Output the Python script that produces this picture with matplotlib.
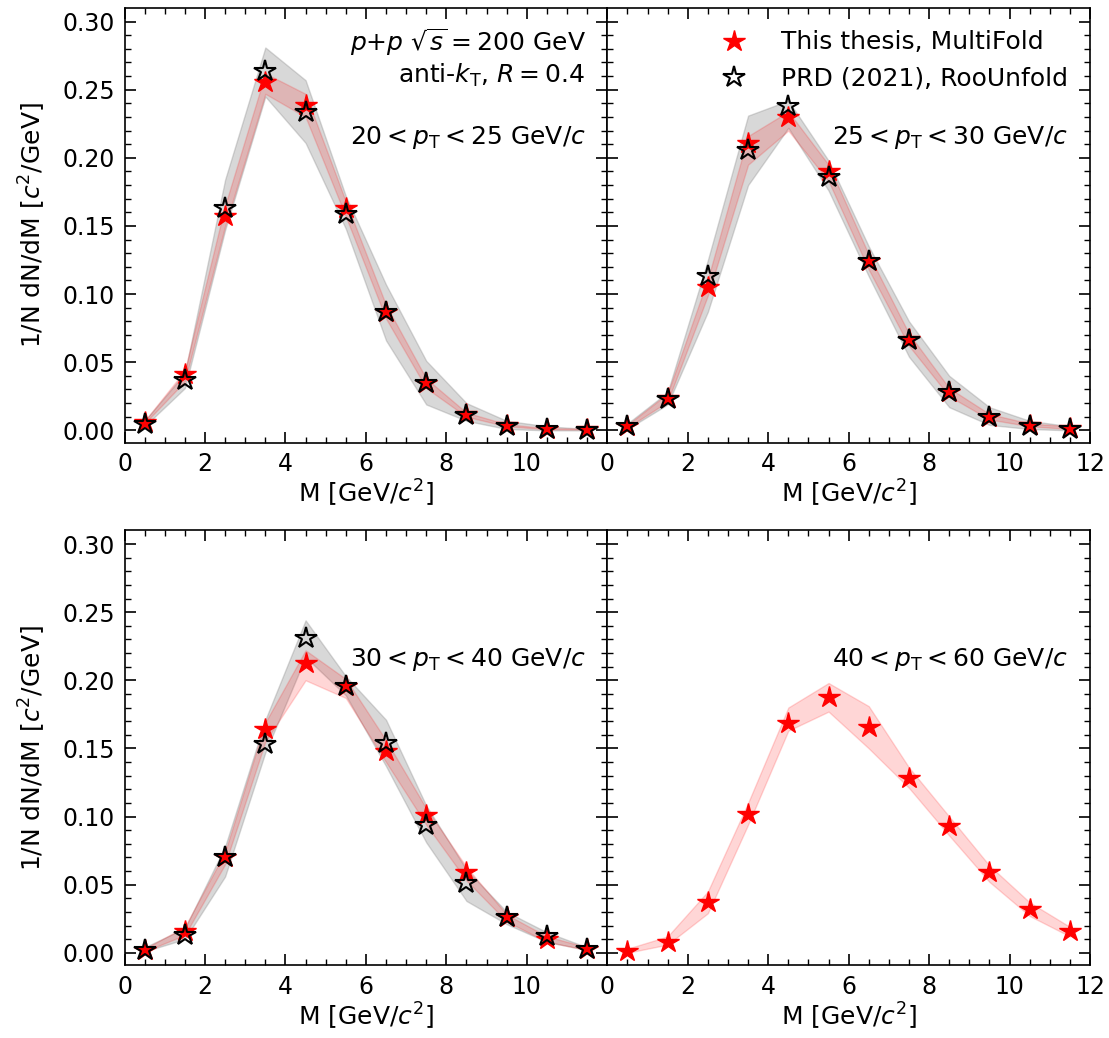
# =========================================================
# JET MASS SPECTRA — MULTIFOLD vs ROOUNFOLD
# p+p at sqrt(s) = 200 GeV, anti-kT R = 0.4
# =========================================================

import numpy as np
import matplotlib.pyplot as plt

# =========================================================
# STEP 1 — DATA (per pT bin)
# =========================================================

# jet mass bin centres [GeV/c^2]
mass_bins = [0.5, 1.5, 2.5, 3.5, 4.5, 5.5, 6.5, 7.5, 8.5, 9.5, 10.5, 11.5]

pt_labels = [
    r"$20 < p_{\rm T} < 25$ GeV/$c$",
    r"$25 < p_{\rm T} < 30$ GeV/$c$",
    r"$30 < p_{\rm T} < 40$ GeV/$c$",
    r"$40 < p_{\rm T} < 60$ GeV/$c$",
]

# 20 < pT < 25
mf_20_25 = [0.006, 0.041, 0.157, 0.256, 0.239, 0.163, 0.087, 0.035, 0.012, 0.004, 0.001, 0.001]
mf_20_25_hi = [0.007, 0.044, 0.165, 0.262, 0.247, 0.168, 0.092, 0.038, 0.013, 0.0045, 0.0015, 0.0013]
mf_20_25_lo = [0.005, 0.036, 0.150, 0.247, 0.230, 0.157, 0.082, 0.031, 0.010, 0.003, 0.0008, 0.0006]
prd_20_25 = [0.005, 0.037, 0.163, 0.264, 0.234, 0.159, 0.087, 0.035, 0.011, 0.003, 0.001, 0.0005]
prd_20_25_hi = [0.007, 0.042, 0.184, 0.281, 0.257, 0.172, 0.107, 0.051, 0.020, 0.007, 0.003, 0.001]
prd_20_25_lo = [0.003, 0.031, 0.147, 0.245, 0.211, 0.148, 0.066, 0.019, 0.007, 0.001, 0.0, 0.0]

# 25 < pT < 30
mf_25_30 = [0.003, 0.024, 0.105, 0.211, 0.230, 0.190, 0.124, 0.067, 0.028, 0.010, 0.004, 0.002]
mf_25_30_hi = [0.004, 0.027, 0.111, 0.216, 0.234, 0.195, 0.129, 0.071, 0.031, 0.012, 0.005, 0.003]
mf_25_30_lo = [0.002, 0.021, 0.099, 0.195, 0.220, 0.183, 0.118, 0.062, 0.025, 0.008, 0.003, 0.001]
prd_25_30 = [0.003, 0.023, 0.113, 0.206, 0.238, 0.186, 0.124, 0.066, 0.028, 0.010, 0.003, 0.001]
prd_25_30_hi = [0.005, 0.028, 0.125, 0.231, 0.242, 0.198, 0.135, 0.080, 0.040, 0.017, 0.007, 0.003]
prd_25_30_lo = [0.001, 0.019, 0.087, 0.180, 0.222, 0.176, 0.113, 0.054, 0.017, 0.004, 0.001, 0.0]

# 30 < pT < 40
mf_30_40 = [0.002, 0.016, 0.070, 0.164, 0.213, 0.196, 0.148, 0.101, 0.059, 0.026, 0.010, 0.003]
mf_30_40_hi = [0.003, 0.019, 0.074, 0.169, 0.222, 0.201, 0.156, 0.106, 0.063, 0.028, 0.012, 0.004]
mf_30_40_lo = [0.001, 0.013, 0.065, 0.155, 0.200, 0.187, 0.140, 0.094, 0.053, 0.023, 0.008, 0.002]
prd_30_40 = [0.002, 0.013, 0.070, 0.153, 0.231, 0.196, 0.154, 0.094, 0.051, 0.026, 0.012, 0.003]
prd_30_40_hi = [0.004, 0.018, 0.078, 0.171, 0.244, 0.203, 0.171, 0.108, 0.061, 0.030, 0.015, 0.004]
prd_30_40_lo = [0.001, 0.010, 0.056, 0.147, 0.217, 0.189, 0.137, 0.081, 0.038, 0.021, 0.008, 0.002]

# 40 < pT < 60 (MultiFold only)
mf_40_60 = [0.001, 0.008, 0.037, 0.102, 0.169, 0.188, 0.166, 0.128, 0.093, 0.059, 0.032, 0.016]
mf_40_60_hi = [0.003, 0.012, 0.045, 0.110, 0.180, 0.198, 0.181, 0.136, 0.100, 0.064, 0.037, 0.019]
mf_40_60_lo = [0.000, 0.006, 0.029, 0.094, 0.163, 0.177, 0.150, 0.121, 0.086, 0.052, 0.027, 0.012]

multifold = [
    (mf_20_25, mf_20_25_lo, mf_20_25_hi),
    (mf_25_30, mf_25_30_lo, mf_25_30_hi),
    (mf_30_40, mf_30_40_lo, mf_30_40_hi),
    (mf_40_60, mf_40_60_lo, mf_40_60_hi),
]

roounfold = [
    (prd_20_25, prd_20_25_lo, prd_20_25_hi),
    (prd_25_30, prd_25_30_lo, prd_25_30_hi),
    (prd_30_40, prd_30_40_lo, prd_30_40_hi),
    None,
]

FS = 18

# =========================================================
# STEP 2 — FIGURE LAYOUT
# =========================================================

fig, axes = plt.subplots(2, 2, figsize=(11.09, 10.38), dpi=100, sharey=True)

plt.subplots_adjust(
    left=0.1123,
    right=0.9829,
    bottom=0.0703,
    top=0.9923,
    wspace=0.0,
    hspace=0.202
)

# =========================================================
# STEP 3 — DRAW EACH PT BIN
# =========================================================

for i, ax in enumerate(axes.flat):

    y_mf, lo_mf, hi_mf = multifold[i]

    # RooUnfold band + open stars
    if roounfold[i] is not None:
        y_prd, lo_prd, hi_prd = roounfold[i]
        ax.fill_between(mass_bins, lo_prd, hi_prd, color="gray", alpha=0.3, lw=1)

    # MultiFold band + filled stars
    ax.fill_between(mass_bins, lo_mf, hi_mf, color="red", alpha=0.16, lw=1)
    ax.plot(mass_bins, y_mf, ls="none", marker="*", ms=16,
            color="red", label="This thesis, MultiFold", zorder=3)

    if roounfold[i] is not None:
        ax.plot(mass_bins, y_prd, ls="none", marker="*", ms=16,
                mfc="none", mec="black", mew=1.5,
                label="PRD (2021), RooUnfold", zorder=4)

    ax.text(0.955, 0.703, pt_labels[i], transform=ax.transAxes,
            ha="right", va="center", fontsize=FS)

    # -----------------------------------------
    # Axes cosmetics
    # -----------------------------------------

    ax.set_xlim(0, 12)
    ax.set_ylim(-0.009, 0.31)

    if i % 2 == 0:
        ax.set_xticks(np.arange(0, 11, 2))
        ax.set_ylabel(r"1/N dN/dM [$c^2$/GeV]", fontsize=FS, labelpad=10)
    else:
        ax.set_xticks(np.arange(0, 13, 2))

    ax.set_xticks(np.arange(0, 12.01, 0.5), minor=True)
    ax.set_yticks(np.arange(0, 0.301, 0.05))
    ax.set_yticks(np.arange(0, 0.301, 0.01), minor=True)
    ax.set_xlabel(r"M [GeV/$c^2$]", fontsize=FS, labelpad=1.5)

    ax.tick_params(which="both", direction="in", top=True, right=True,
                   labelsize=17, pad=7)
    ax.tick_params(which="major", length=8, width=1.2)
    ax.tick_params(which="minor", length=4, width=1.0)

    for spine in ax.spines.values():
        spine.set_linewidth(1.2)

# =========================================================
# STEP 4 — COLLISION SYSTEM TEXT + LEGEND
# =========================================================

axes[0, 0].text(0.955, 0.922, r"$p$+$p$ $\sqrt{s} = 200$ GeV",
                transform=axes[0, 0].transAxes, ha="right", va="center", fontsize=FS)
axes[0, 0].text(0.955, 0.846, r"anti-$k_{\rm T}$, $R = 0.4$",
                transform=axes[0, 0].transAxes, ha="right", va="center", fontsize=FS)

axes[0, 1].legend(loc="upper right", frameon=False, fontsize=FS,
                  borderaxespad=0.5, handletextpad=0.85)

# =========================================================
# STEP 5 — SAVE
# =========================================================

plt.savefig("out.png", dpi=100)
